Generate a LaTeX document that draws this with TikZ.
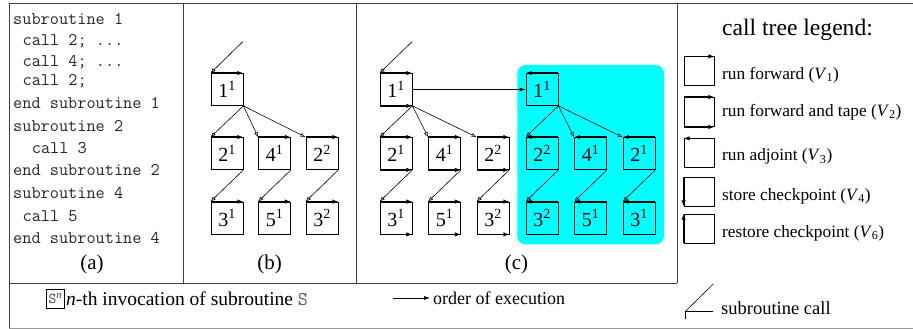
\documentclass[tikz,border=0pt]{standalone}
\usepackage{fontspec}
\setmainfont{Liberation Serif}
\usetikzlibrary{arrows.meta}
\definecolor{aqua}{RGB}{0,255,255}
\begin{document}
\begin{tikzpicture}[x=1pt,y=-1pt,
  frame/.style={draw=black!75,line width=0.8pt},
  codeline/.style={anchor=west,inner sep=0pt,font=\fontsize{17.8}{20}\ttfamily,text=black!85,text height=0.72em,text depth=0.05em},
  tnode/.style={draw,line width=0.8pt,minimum width=32pt,minimum height=32pt,inner sep=0pt,font=\fontsize{20}{24}\selectfont},
  lbox/.style={draw,line width=0.8pt,minimum width=30pt,minimum height=29pt,inner sep=0pt},
  edgearrow/.style={line width=1.3pt,-{Latex[length=6pt,width=4.5pt]}},
  callarrow/.style={line width=0.6pt,-{Latex[open,length=5pt,width=4pt]}},
  exec/.style={line width=0.6pt,-{Latex[length=6pt,width=4pt]}},
  legtext/.style={anchor=west,inner sep=0pt,font=\fontsize{17.3}{20}\selectfont},
  bottext/.style={anchor=west,inner sep=0pt,font=\fontsize{18.5}{22}\selectfont},
  panellabel/.style={inner sep=0pt,font=\fontsize{21}{24}\selectfont}
]
\useasboundingbox (0,0) rectangle (913,329);

% frame
\draw[frame] (9,3) -- (913,3);
\draw[frame] (9,3) -- (9,328);
\draw[frame] (9,283) -- (677,283);
\draw[frame] (183,3) -- (183,283);
\draw[frame] (356,3) -- (356,283);
\draw[frame] (677,3) -- (677,283);
\draw[draw=black!40,line width=0.8pt] (9,328) -- (913,328);

% panel (a): code
\node[codeline] (l1) at (13,20.7) {subroutine 1};
\node[codeline] (l2) at (22.4,42) {call 2; ...};
\node[codeline] (l3) at (22.4,62.7) {call 4; ...};
\node[codeline] (l4) at (22.4,82) {call 2;};
\node[codeline] (l5) at (13,105) {end subroutine 1};
\node[codeline] (l6) at (13,128) {subroutine 2};
\node[codeline] (l7) at (31.7,150) {call 3};
\node[codeline] (l8) at (13,172.5) {end subroutine 2};
\node[codeline] (l9) at (13,195.5) {subroutine 4};
\node[codeline] (l10) at (22.4,218) {call 5};
\node[codeline] (l11) at (13,240.5) {end subroutine 4};
\node[panellabel] (la) at (92,264) {(a)};

% panel (b)
\node[tnode] (b11) at (227,89.5) {1\textsuperscript{1}};
\node[tnode] (b21) at (227,153.5) {2\textsuperscript{1}};
\node[tnode] (b41) at (274.5,153.5) {4\textsuperscript{1}};
\node[tnode] (b22) at (322,153.5) {2\textsuperscript{2}};
\node[tnode] (b31) at (227,218) {3\textsuperscript{1}};
\node[tnode] (b51) at (274.5,218) {5\textsuperscript{1}};
\node[tnode] (b32) at (322,218) {3\textsuperscript{2}};
\foreach \n in {b11,b21,b41,b22,b31,b51,b32}
  \draw[edgearrow] (\n.north west) -- (\n.north east);
\coordinate (bin) at (242.7,41.7);
\draw[callarrow] (bin) -- (b11.north west);
\draw[callarrow] (b11.south east) -- (b21.north west);
\draw[callarrow] (b11.south east) -- (b41.north west);
\draw[callarrow] (b11.south east) -- (b22.north west);
\draw[callarrow] (b21.south east) -- (b31.north west);
\draw[callarrow] (b41.south east) -- (b51.north west);
\draw[callarrow] (b22.south east) -- (b32.north west);
\node[panellabel] (lb) at (269.5,264) {(b)};

% panel (c): left tree (forward and tape)
\node[tnode] (c11) at (396,89.5) {1\textsuperscript{1}};
\node[tnode] (c21) at (396,153.5) {2\textsuperscript{1}};
\node[tnode] (c41) at (444.5,153.5) {4\textsuperscript{1}};
\node[tnode] (c22) at (493,153.5) {2\textsuperscript{2}};
\node[tnode] (c31) at (396,218) {3\textsuperscript{1}};
\node[tnode] (c51) at (444.5,218) {5\textsuperscript{1}};
\node[tnode] (c32) at (493,218) {3\textsuperscript{2}};
\foreach \n in {c11,c21,c41,c22,c31,c51,c32}{
  \draw[edgearrow] (\n.north west) -- (\n.north east);
  \draw[edgearrow] (\n.south west) -- (\n.south east);
}
\coordinate (cin) at (412,41.7);
\draw[callarrow] (cin) -- (c11.north west);
\draw[callarrow] (c11.south east) -- (c21.north west);
\draw[callarrow] (c11.south east) -- (c41.north west);
\draw[callarrow] (c11.south east) -- (c22.north west);
\draw[callarrow] (c21.south east) -- (c31.north west);
\draw[callarrow] (c41.south east) -- (c51.north west);
\draw[callarrow] (c22.south east) -- (c32.north west);

% panel (c): right tree (adjoint) on cyan
\fill[aqua,rounded corners=8pt] (517.3,65) rectangle (664,244.3);
\node[tnode] (r11) at (542,89.5) {1\textsuperscript{1}};
\node[tnode] (r22) at (542,153.5) {2\textsuperscript{2}};
\node[tnode] (r41) at (590.5,153.5) {4\textsuperscript{1}};
\node[tnode] (r21) at (639,153.5) {2\textsuperscript{1}};
\node[tnode] (r32) at (542,218) {3\textsuperscript{2}};
\node[tnode] (r51) at (590.5,218) {5\textsuperscript{1}};
\node[tnode] (r31) at (639,218) {3\textsuperscript{1}};
\foreach \n in {r11,r22,r41,r21,r32,r51,r31}
  \draw[edgearrow] (\n.north east) -- (\n.north west);
\draw[callarrow] (r11.south east) -- (r22.north west);
\draw[callarrow] (r11.south east) -- (r41.north west);
\draw[callarrow] (r11.south east) -- (r21.north west);
\draw[callarrow] (r22.south east) -- (r32.north west);
\draw[callarrow] (r41.south east) -- (r51.north west);
\draw[callarrow] (r21.south east) -- (r31.north west);
\draw[exec] (c11.east) -- (r11.west);
\node[panellabel] (lc) at (516.5,264) {(c)};

% call tree legend
\node[inner sep=0pt,font=\fontsize{23.6}{28}\selectfont] (title) at (797.5,30) {call tree legend:};
\node[lbox] (v1) at (699,71.3) {};
\draw[edgearrow] (v1.north west) -- (v1.north east);
\node[legtext] (t1) at (722,75) {run forward (\textit{V}\textsubscript{1})};
\node[lbox] (v2) at (699,112) {};
\draw[edgearrow] (v2.north west) -- (v2.north east);
\draw[edgearrow] (v2.south west) -- (v2.south east);
\node[legtext] (t2) at (722,112) {run forward and tape (\textit{V}\textsubscript{2})};
\node[lbox] (v3) at (699,153.3) {};
\draw[edgearrow] (v3.north east) -- (v3.north west);
\node[legtext] (t3) at (722,156.7) {run adjoint (\textit{V}\textsubscript{3})};
\node[lbox] (v4) at (699,191.5) {};
\draw[edgearrow] (v4.north west) -- (v4.south west);
\node[legtext] (t4) at (722,196) {store checkpoint (\textit{V}\textsubscript{4})};
\node[lbox] (v6) at (699,228.5) {};
\draw[edgearrow] (v6.south west) -- (v6.north west);
\node[legtext] (t6) at (722,233) {restore checkpoint (\textit{V}\textsubscript{6})};

% bottom legend
\node[draw,line width=0.6pt,minimum width=18pt,minimum height=19pt,inner sep=1pt,font=\fontsize{15}{17}\selectfont,text=black!75] (sn) at (55.3,298.3) {\texttt{S}\textsuperscript{\textit{n}}};
\node[bottext,font=\fontsize{19.5}{23}\selectfont] (tsn) at (66,298.5) {\textit{n}-th invocation of subroutine {\color{black!65}\texttt{S}}};
\coordinate (ea) at (393,298);
\coordinate (eb) at (430,298);
\draw[exec] (ea) -- (eb);
\node[bottext,font=\fontsize{18}{22}\selectfont] (tex) at (433,298.5) {order of execution};
\coordinate (sc) at (685,311.7);
\coordinate (sd) at (713.3,284);
\coordinate (sh) at (713.3,311.7);
\coordinate (sv) at (685,319);
\draw[line width=0.6pt] (sd) -- (sc);
\draw[line width=0.8pt] (sv) -- (sc) -- (sh);
\node[bottext] (tsc) at (721,308) {subroutine call};
\end{tikzpicture}
\end{document}
